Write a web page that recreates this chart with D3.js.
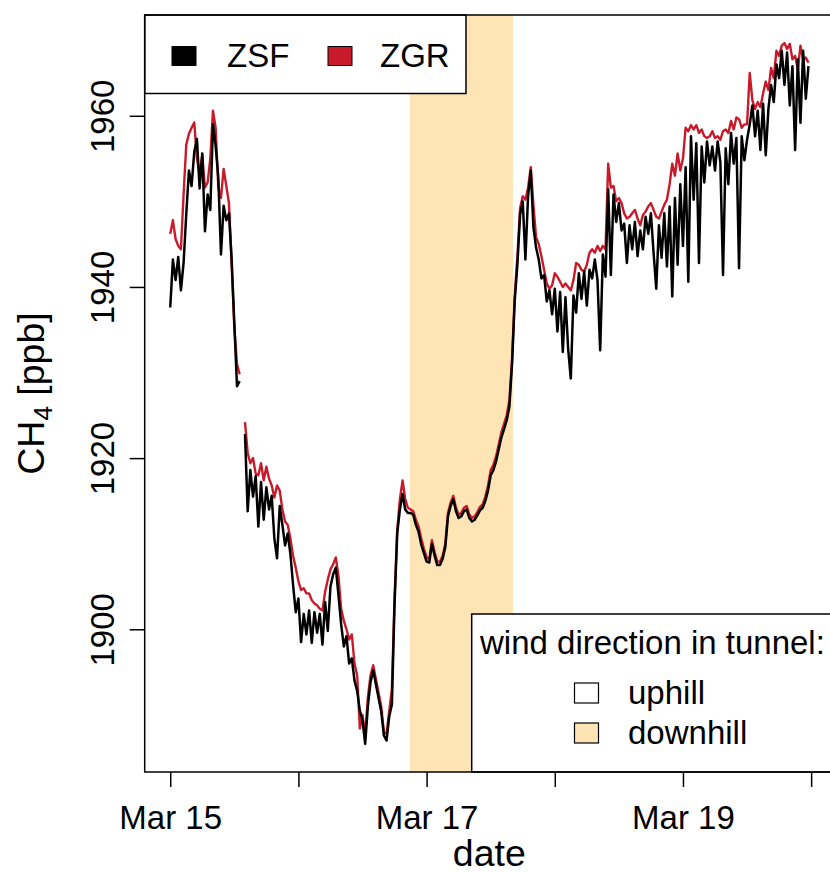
<!DOCTYPE html>
<html>
<head>
<meta charset="utf-8">
<script src="https://cdn.jsdelivr.net/npm/d3@7"></script>
<style>
  body { margin: 0; background: #fff; }
  svg { display: block; font-family: "Liberation Sans", Arial, Helvetica, sans-serif; }
</style>
</head>
<body>
<svg id="chart" width="830" height="873"></svg>
<script>
// CH4 mole fractions (ppb), 30-minute means starting 15 March 00:00 UTC
const seriesStart = "2021-03-15T00:00:00Z";
const stepMinutes = 30;

const zsf = [
  1937.6, 1943.2, 1940.8, 1943.5, 1939.6, 1942.8, 1948.5, 1953.6, 1951.8, 1955.8,
  1957.3, 1951.5, 1955.6, 1946.5, 1950.8, 1949.0, 1959.0, 1956.5, 1952.8, 1943.8,
  1949.5, 1947.8, 1948.6, 1943.2, 1935.8, 1928.4, 1929.0, null,   1922.8, 1913.8,
  1918.6, 1915.5, 1917.9, 1912.0, 1917.2, 1912.8, 1916.6, 1914.0, 1915.6, 1910.6,
  1908.3, 1914.4, 1912.2, 1909.8, 1911.2, 1908.8, 1905.2, 1902.0, 1903.6, 1898.5,
  1901.8, 1899.4, 1902.2, 1898.4, 1902.0, 1899.6, 1901.8, 1898.2, 1903.2, 1899.8,
  1905.0, 1906.4, 1907.2, 1904.0, 1900.6, 1898.0, 1899.2, 1896.0, 1896.6, 1894.0,
  1892.8, 1890.5, 1889.4, 1886.6, 1891.0, 1893.8, 1895.2, 1893.6, 1892.0, 1890.4,
  1887.6, 1887.0, 1889.8, 1891.2, 1903.0, 1911.2, 1914.0, 1915.8, 1914.0, 1913.6,
  1913.6, 1913.4, 1912.2, 1911.4, 1909.9, 1908.9, 1907.9, 1907.8, 1910.0, 1908.6,
  1907.5, 1907.5, 1908.2, 1909.6, 1913.2, 1914.4, 1915.2, 1913.8, 1913.0, 1913.2,
  1913.8, 1914.0, 1913.0, 1912.6, 1912.8, 1913.3, 1913.9, 1914.2, 1915.0, 1916.2,
  1918.0, 1918.6, 1919.6, 1921.0, 1922.4, 1923.4, 1924.4, 1926.0, 1931.0, 1938.4,
  1942.6, 1948.4, 1950.0, 1943.2, 1950.6, 1953.6, 1947.0, 1944.6, 1943.2, 1941.0,
  1941.4, 1938.3, 1939.6, 1936.8, 1939.8, 1934.8, 1939.4, 1932.4, 1938.8, 1932.8,
  1929.3, 1939.0, 1937.0, 1941.6, 1938.6, 1941.8, 1937.8, 1942.0, 1941.0, 1943.2,
  1940.8, 1932.6, 1943.8, 1941.2, 1951.4, 1941.4, 1950.8, 1947.6, 1949.8, 1946.6,
  1947.4, 1942.8, 1947.2, 1944.4, 1947.6, 1943.6, 1946.6, 1944.4, 1948.2, 1946.2,
  1948.6, 1944.0, 1939.8, 1947.2, 1943.4, 1948.6, 1942.4, 1949.4, 1938.9, 1950.4,
  1942.6, 1952.0, 1944.8, 1954.0, 1940.6, 1957.6, 1950.2, 1956.8, 1942.8, 1956.4,
  1952.2, 1957.0, 1954.2, 1956.4, 1953.6, 1957.0, 1954.6, 1941.4, 1956.2, 1952.0,
  1958.0, 1954.4, 1957.4, 1942.2, 1957.6, 1954.8, 1957.2, 1959.0, 1961.2, 1957.6,
  1960.6, 1956.0, 1961.4, 1955.4, 1960.8, 1963.6, 1961.6, 1966.0, 1964.4, 1967.6,
  1963.6, 1967.4, 1961.2, 1965.8, 1956.0, 1966.6, 1959.2, 1967.6, 1962.0, 1965.8
];

const zgr = [
  1946.2, 1947.8, 1945.6, 1944.8, 1944.4, 1950.8, 1956.6, 1957.9, 1958.6, 1959.2,
  1955.0, 1953.2, 1955.4, 1951.6, 1952.2, 1955.0, 1960.6, 1958.6, 1951.6, 1950.4,
  1953.8, 1951.8, 1949.8, 1942.6, 1935.2, 1931.0, 1929.8, null,   1924.2, 1920.6,
  1919.4, 1920.0, 1918.2, 1918.0, 1919.4, 1917.4, 1919.0, 1917.6, 1916.8, 1915.4,
  1916.8, 1916.2, 1914.0, 1912.6, 1912.2, 1910.6, 1908.6, 1907.2, 1905.6, 1904.6,
  1904.8, 1904.2, 1904.2, 1903.4, 1903.0, 1902.8, 1902.4, 1902.2, 1904.4, 1905.8,
  1907.0, 1907.6, 1908.4, 1906.2, 1902.4, 1901.0, 1900.0, 1898.8, 1899.4, 1896.0,
  1894.6, 1888.4, 1890.0, 1887.6, 1892.0, 1894.6, 1895.8, 1894.2, 1892.6, 1891.0,
  1888.0, 1887.8, 1890.4, 1893.0, 1903.6, 1911.6, 1915.2, 1917.4, 1915.2, 1914.2,
  1914.0, 1913.8, 1912.8, 1912.0, 1910.6, 1909.4, 1908.4, 1908.2, 1910.4, 1909.0,
  1907.9, 1907.9, 1908.6, 1910.0, 1913.6, 1914.8, 1915.6, 1914.2, 1913.4, 1913.6,
  1914.2, 1914.4, 1913.4, 1913.0, 1913.2, 1913.7, 1914.3, 1914.6, 1915.5, 1916.8,
  1918.6, 1919.2, 1920.2, 1921.6, 1923.0, 1924.0, 1925.0, 1926.8, 1931.6, 1939.0,
  1943.6, 1949.2, 1950.6, 1950.2, 1951.6, 1954.0, 1949.6, 1945.8, 1945.0, 1943.6,
  1942.0, 1940.4, 1939.8, 1940.2, 1941.6, 1941.2, 1940.6, 1940.0, 1940.4, 1940.0,
  1939.6, 1940.8, 1942.8, 1942.6, 1942.0, 1941.8, 1942.6, 1944.0, 1944.4, 1944.0,
  1944.8, 1944.2, 1944.8, 1944.4, 1954.4, 1951.6, 1951.8, 1950.0, 1950.4, 1949.8,
  1948.6, 1948.0, 1948.2, 1948.6, 1949.0, 1948.0, 1947.2, 1948.4, 1948.8, 1949.4,
  1949.8, 1949.0, 1948.2, 1948.0, 1948.8, 1949.6, 1950.2, 1952.0, 1954.4, 1953.0,
  1955.6, 1953.6, 1955.0, 1958.6, 1958.2, 1958.9, 1958.4, 1958.9, 1958.0, 1958.4,
  1957.6, 1957.4, 1957.6, 1958.2, 1957.4, 1957.6, 1957.2, 1958.2, 1958.4, 1958.0,
  1959.4, 1958.4, 1959.8, 1959.6, 1958.6, 1959.0, 1959.0, 1965.0, 1961.8, 1960.8,
  1961.6, 1961.0, 1962.6, 1964.0, 1963.0, 1965.6, 1964.4, 1967.6, 1967.0, 1968.2,
  1968.5, 1967.8, 1968.4, 1966.6, 1967.0, 1965.4, 1968.2, 1966.6, 1966.8, 1966.2
];

const seriesNames = ["ZSF", "ZGR"];
const seriesColors = ["#000000", "#c81a2a"];

// period with downhill wind in the tunnel
const downhillPeriod = ["2021-03-16T20:53:00Z", "2021-03-17T16:10:00Z"];
const windTitle = "wind direction in tunnel:";
const windClasses = ["uphill", "downhill"];
const windFills = ["#ffffff", "#ffe4b5"];

const yTicks = [1900, 1920, 1940, 1960];
const xTickDays = ["2021-03-15", "2021-03-16", "2021-03-17", "2021-03-18", "2021-03-19", "2021-03-20"];
const xTickLabels = ["Mar 15", "", "Mar 17", "", "Mar 19", ""];
const xTitle = "date";

// ---- layout
const W = 830, H = 873;
const plot = { left: 144.7, top: 15, right: 834, bottom: 772 };
const fontSize = 33;
const titleSize = 37.5;

const svg = d3.select("#chart");

const t0 = new Date(seriesStart).getTime();
const times = zsf.map((_, i) => new Date(t0 + i * stepMinutes * 60000));
const rows = times.map((t, i) => ({ t, zsf: zsf[i], zgr: zgr[i] }));

// 4% padding around the data range on both axes
const tExt = d3.extent(times);
const tPad = (tExt[1] - tExt[0]) * 0.04;
const x = d3.scaleUtc()
  .domain([new Date(+tExt[0] - tPad), new Date(+tExt[1] + tPad)])
  .range([plot.left, plot.right]);

const allVals = zsf.concat(zgr).filter(v => v != null);
const vExt = d3.extent(allVals);
const vPad = (vExt[1] - vExt[0]) * 0.04;
const y = d3.scaleLinear()
  .domain([vExt[0] - vPad, vExt[1] + vPad])
  .range([plot.bottom, plot.top]);

svg.append("rect").attr("width", W).attr("height", H).attr("fill", "#fff");

svg.append("clipPath").attr("id", "plotclip")
  .append("rect")
  .attr("x", plot.left).attr("y", plot.top)
  .attr("width", plot.right - plot.left).attr("height", plot.bottom - plot.top);

// downhill shading
svg.append("rect")
  .attr("x", x(new Date(downhillPeriod[0])))
  .attr("y", plot.top)
  .attr("width", x(new Date(downhillPeriod[1])) - x(new Date(downhillPeriod[0])))
  .attr("height", plot.bottom - plot.top)
  .attr("fill", windFills[1]);

// series: ZGR underneath, ZSF on top
const lines = svg.append("g").attr("clip-path", "url(#plotclip)");
[["zgr", seriesColors[1], 2.4], ["zsf", seriesColors[0], 2.5]].forEach(([key, col, lw]) => {
  const gen = d3.line()
    .defined(d => d[key] != null)
    .x(d => x(d.t))
    .y(d => y(d[key]));
  lines.append("path")
    .datum(rows)
    .attr("d", gen)
    .attr("fill", "none")
    .attr("stroke", col)
    .attr("stroke-width", lw)
    .attr("stroke-linejoin", "round");
});

// legends
const leg1 = svg.append("g");
leg1.append("rect")
  .attr("x", plot.left).attr("y", plot.top)
  .attr("width", 321.3).attr("height", 78.5)
  .attr("fill", "#fff").attr("stroke", "#000").attr("stroke-width", 1.5);
const leg1Pos = [{ box: 172, text: 227 }, { box: 328, text: 380 }];
seriesNames.forEach((name, i) => {
  leg1.append("rect")
    .attr("x", leg1Pos[i].box).attr("y", 46.5)
    .attr("width", 24).attr("height", 19)
    .attr("fill", seriesColors[i]).attr("stroke", "#000").attr("stroke-width", 1);
  leg1.append("text")
    .attr("x", leg1Pos[i].text).attr("y", 66.5)
    .attr("font-size", fontSize)
    .text(name);
});

const leg2 = svg.append("g");
leg2.append("rect")
  .attr("x", 471.7).attr("y", 614)
  .attr("width", 400).attr("height", plot.bottom - 614)
  .attr("fill", "#fff").attr("stroke", "#000").attr("stroke-width", 1.5);
leg2.append("text")
  .attr("x", 480).attr("y", 654)
  .attr("font-size", fontSize)
  .text(windTitle);
windClasses.forEach((name, i) => {
  const yy = 683 + i * 40;
  leg2.append("rect")
    .attr("x", 574.5).attr("y", yy)
    .attr("width", 24).attr("height", 20)
    .attr("fill", windFills[i]).attr("stroke", "#000").attr("stroke-width", 1.2);
  leg2.append("text")
    .attr("x", 628).attr("y", yy + 20.5)
    .attr("font-size", fontSize)
    .text(name);
});

// plot frame
svg.append("rect")
  .attr("x", plot.left).attr("y", plot.top)
  .attr("width", plot.right - plot.left).attr("height", plot.bottom - plot.top)
  .attr("fill", "none").attr("stroke", "#000").attr("stroke-width", 1.5);

// y axis
const yAxis = svg.append("g")
  .attr("transform", `translate(${plot.left},0)`)
  .call(d3.axisLeft(y).tickValues(yTicks).tickSize(15).tickFormat(d3.format("d")));
yAxis.select(".domain").remove();
yAxis.selectAll(".tick line").attr("stroke", "#000").attr("stroke-width", 1.5);
yAxis.selectAll(".tick text")
  .attr("x", null).attr("dy", null)
  .attr("text-anchor", "middle")
  .attr("font-size", fontSize)
  .attr("font-family", null)
  .attr("fill", "#000")
  .attr("transform", "translate(-31,0) rotate(-90)");

// x axis
const xAxis = svg.append("g")
  .attr("transform", `translate(0,${plot.bottom})`)
  .call(d3.axisBottom(x)
    .tickValues(xTickDays.map(d => new Date(d + "T00:00:00Z")))
    .tickSize(15)
    .tickFormat((d, i) => xTickLabels[i]));
xAxis.select(".domain").remove();
xAxis.selectAll(".tick line").attr("stroke", "#000").attr("stroke-width", 1.5);
xAxis.selectAll(".tick text")
  .attr("y", 57).attr("dy", null)
  .attr("font-size", fontSize)
  .attr("font-family", null)
  .attr("fill", "#000");

// axis titles
svg.append("text")
  .attr("x", (plot.left + plot.right) / 2).attr("y", 866)
  .attr("text-anchor", "middle")
  .attr("font-size", titleSize)
  .text(xTitle);

const yTitle = svg.append("text")
  .attr("text-anchor", "middle")
  .attr("font-size", titleSize)
  .attr("transform", `translate(44,${(plot.top + plot.bottom) / 2}) rotate(-90)`);
yTitle.append("tspan").text("CH");
yTitle.append("tspan").attr("font-size", 26).attr("dy", 8).text("4");
yTitle.append("tspan").attr("dy", -8).text(" [ppb]");
</script>
</body>
</html>
